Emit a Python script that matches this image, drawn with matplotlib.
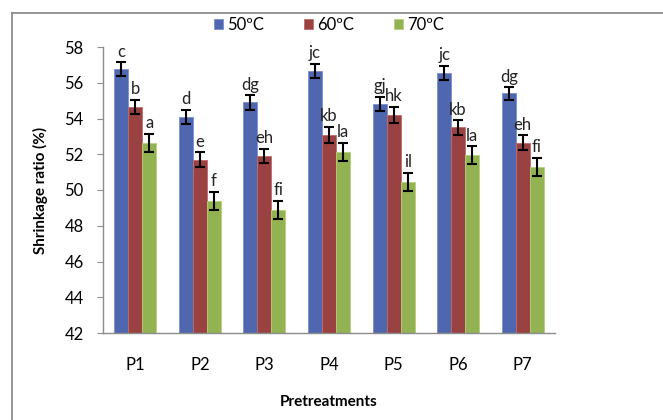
import numpy as np
import matplotlib.pyplot as plt
from matplotlib.lines import Line2D

plt.rcParams['font.family'] = ['Lato', 'DejaVu Sans']

# Data
categories = ['P1', 'P2', 'P3', 'P4', 'P5', 'P6', 'P7']
series_names = ['50ºC', '60ºC', '70ºC']
t50 = [56.75, 54.1, 54.9, 56.65, 54.8, 56.55, 55.4]
t60 = [54.65, 51.7, 51.9, 53.1, 54.2, 53.5, 52.65]
t70 = [52.65, 49.4, 48.9, 52.15, 50.45, 51.95, 51.3]
err50 = [0.4, 0.4, 0.4, 0.4, 0.4, 0.4, 0.35]
err60 = [0.4, 0.4, 0.4, 0.45, 0.45, 0.4, 0.4]
err70 = [0.5, 0.5, 0.5, 0.5, 0.5, 0.5, 0.5]
lab50 = ['c', 'd', 'dg', 'jc', 'gj', 'jc', 'dg']
lab60 = ['b', 'e', 'eh', 'kb', 'hk', 'kb', 'eh']
lab70 = ['a', 'f', 'fi', 'la', 'il', 'la', 'fi']

colors = ['#4F67AE', '#9A4141', '#93B252']
edges = ['#7A8FD0', '#C06A6A', '#B3D07A']

fig = plt.figure(figsize=(6.63, 4.2), dpi=100)
ax = fig.add_axes([103 / 663, 1 - 333 / 420, (555 - 103) / 663, (333 - 47) / 420])

# outer chart frame, cut off at right and bottom like the source
fx = 12 / 663
fy = 1 - 13 / 420
fig.add_artist(Line2D([fx, 1.0], [fy, fy], transform=fig.transFigure,
                      color='#8C8C8C', linewidth=1.3))
fig.add_artist(Line2D([fx, fx], [0.0, fy], transform=fig.transFigure,
                      color='#8C8C8C', linewidth=1.3))

x = np.arange(len(categories))
w = 0.217
vals = [t50, t60, t70]
errs = [err50, err60, err70]
labs = [lab50, lab60, lab70]

for i in range(3):
    pos = x + (i - 1) * w
    ax.bar(pos, np.array(vals[i]) - 42, w, bottom=42, color=colors[i],
           edgecolor=edges[i], linewidth=0.6, label=series_names[i], zorder=2)
    ax.errorbar(pos, vals[i], yerr=errs[i], fmt='none', ecolor='black',
                elinewidth=1.5, capsize=3.5, capthick=1.5, zorder=3)
    for p, v, e, t in zip(pos, vals[i], errs[i], labs[i]):
        ax.text(p, v + e + 0.15, t, ha='center', va='bottom', fontsize=12,
                color='#222222')

ax.set_xlim(-0.5, len(categories) - 0.5)
ax.set_ylim(42, 58)
ax.set_yticks(np.arange(42, 59, 2))
ax.set_xticks(x)
ax.set_xticklabels(categories)
ax.tick_params(axis='y', length=4, color='#8C8C8C', labelsize=12, pad=10)
ax.tick_params(axis='x', length=0, labelsize=12, pad=17)

for s in ['top', 'right']:
    ax.spines[s].set_visible(False)
for s in ['left', 'bottom']:
    ax.spines[s].set_color('#8C8C8C')
    ax.spines[s].set_linewidth(1.0)

ax.set_ylabel('Shrinkage ratio (%)', fontsize=11, fontweight='bold', labelpad=12)
ax.set_xlabel('Pretreatments', fontsize=11, fontweight='bold', labelpad=16)

leg = ax.legend(loc='center', bbox_to_anchor=(0.5, 1 + 22 / 286), ncol=3,
                frameon=False, fontsize=12, handlelength=0.55, handleheight=0.55,
                handletextpad=0.25, columnspacing=2.4)

plt.savefig('out.png', dpi=100)
plt.close()
